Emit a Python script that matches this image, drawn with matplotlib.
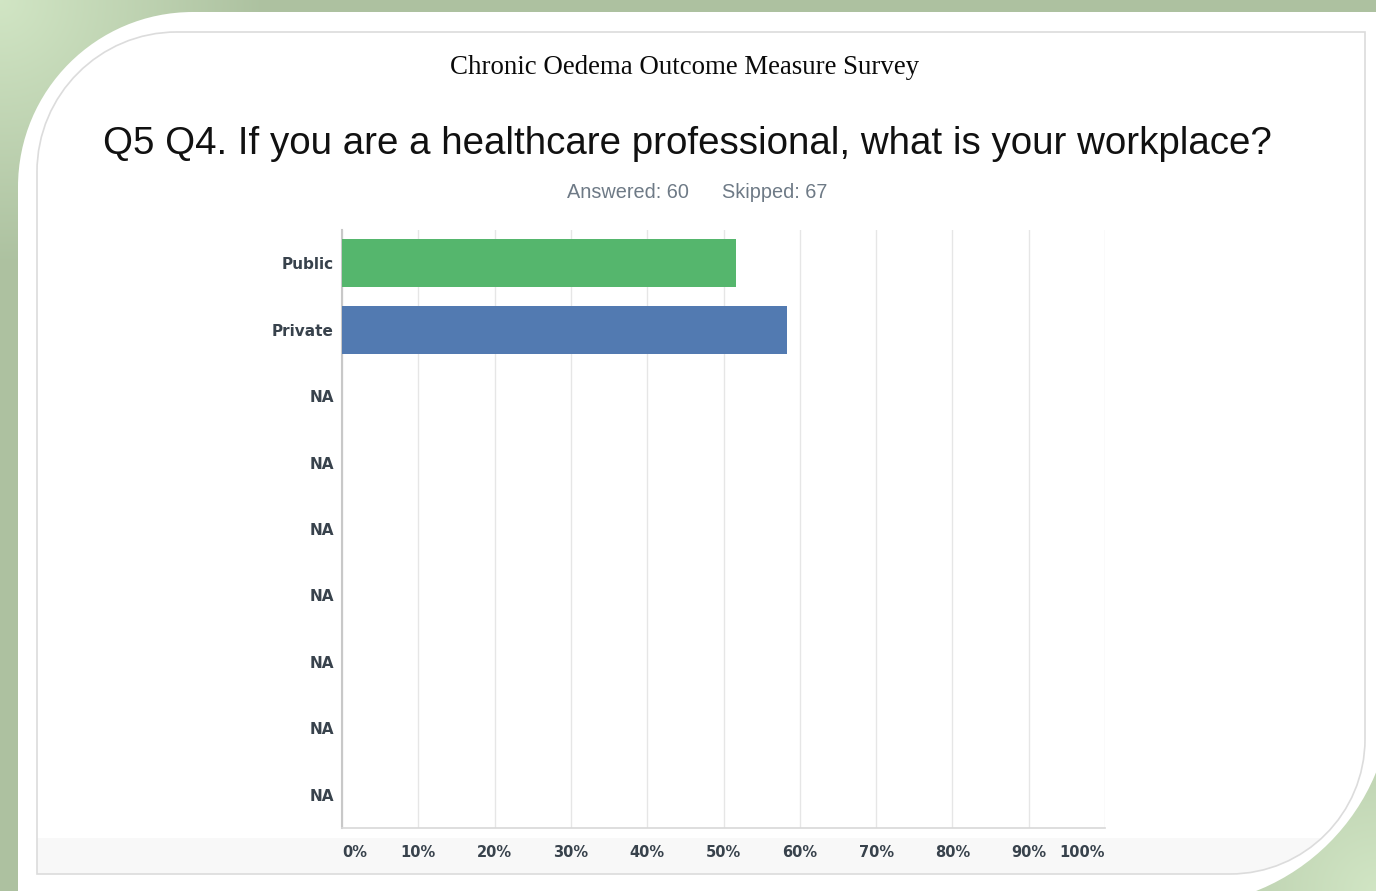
import numpy as np
import matplotlib

matplotlib.use("Agg")
import matplotlib.pyplot as plt
from matplotlib.path import Path
from matplotlib.patches import PathPatch, Rectangle

W, H = 1376, 891

TITLE = "Chronic Oedema Outcome Measure Survey"
QUESTION = "Q5 Q4. If you are a healthcare professional, what is your workplace?"
ANSWERED = "Answered: 60"
SKIPPED = "Skipped: 67"

CATEGORIES = ["Public", "Private", "NA", "NA", "NA", "NA", "NA", "NA", "NA"]
PERCENTS = [51.67, 58.33, 0, 0, 0, 0, 0, 0, 0]
BAR_COLORS = ["#55b66d", "#527ab1"] + ["#527ab1"] * 7
X_TICKS = [0, 10, 20, 30, 40, 50, 60, 70, 80, 90, 100]
X_TICK_LABELS = [f"{t}%" for t in X_TICKS]

LABEL_COLOR = "#38424c"


def rounded_path(x0, y0, x1, y1, r_tl, r_br):
    """Rectangle in pixel coords (y downwards) with rounded top-left and bottom-right."""
    k = 0.5523
    verts = [
        (x0, y1),
        (x0, y0 + r_tl),
        (x0, y0 + r_tl * (1 - k)), (x0 + r_tl * (1 - k), y0), (x0 + r_tl, y0),
        (x1, y0),
        (x1, y1 - r_br),
        (x1, y1 - r_br * (1 - k)), (x1 - r_br * (1 - k), y1), (x1 - r_br, y1),
        (x0, y1),
    ]
    codes = [Path.MOVETO, Path.LINETO, Path.CURVE4, Path.CURVE4, Path.CURVE4,
             Path.LINETO, Path.LINETO, Path.CURVE4, Path.CURVE4, Path.CURVE4,
             Path.CLOSEPOLY]
    return Path(verts, codes)


fig = plt.figure(figsize=(W / 100, H / 100), dpi=100)

# background frame
bg = fig.add_axes([0, 0, 1, 1])
bg.set_xlim(0, W)
bg.set_ylim(H, 0)
bg.axis("off")

yy, xx = np.mgrid[0:H, 0:W]
d1 = np.hypot(xx, yy)
d2 = np.hypot(W - xx, H - yy)
t = np.clip(np.minimum(d1, d2) / 260.0, 0, 1)
light = np.array([0.82, 0.90, 0.77])
dark = np.array([0.68, 0.76, 0.63])
grad = light[None, None, :] * (1 - t[..., None]) + dark[None, None, :] * t[..., None]
bg.imshow(grad, extent=(0, W, H, 0), aspect="auto", zorder=0)

outer = rounded_path(18, 12, 1392, 906, 175, 215)
bg.add_patch(PathPatch(outer, facecolor="white", edgecolor="none", zorder=1))

inner_path = rounded_path(37, 32, 1365, 874, 140, 135)
band = Rectangle((37, 838), 1330, 36, facecolor="#f8f8f8", edgecolor="none", zorder=2)
bg.add_patch(band)
band.set_clip_path(PathPatch(inner_path, transform=bg.transData))
bg.add_patch(PathPatch(inner_path, facecolor="none", edgecolor="#dcdcdc", lw=1.2, zorder=3))

bg.text(685, 67, TITLE, ha="center", va="center", fontsize=19.4,
        family="Liberation Serif", color="#0a0a0a")
bg.text(687, 144, QUESTION, ha="center", va="center", fontsize=27.7,
        family="Liberation Sans", color="#111111")
bg.text(567, 192, ANSWERED, ha="left", va="center", fontsize=14.3,
        family="Liberation Sans", color="#6e7a86")
bg.text(722, 192, SKIPPED, ha="left", va="center", fontsize=14.3,
        family="Liberation Sans", color="#6e7a86")

# chart
ax = fig.add_axes([342 / W, 63 / H, 763 / W, 598 / H])
ax.set_facecolor("none")
y_pos = np.arange(len(CATEGORIES))
ax.barh(y_pos, PERCENTS, height=0.72, color=BAR_COLORS, zorder=3)
ax.set_ylim(len(CATEGORIES) - 0.5, -0.5)
ax.set_xlim(0, 100)

ax.set_xticks(X_TICKS)
ax.set_xticklabels(X_TICK_LABELS)
ax.set_yticks(y_pos)
ax.set_yticklabels(CATEGORIES)
ax.tick_params(axis="both", length=0, labelcolor=LABEL_COLOR)
ax.tick_params(axis="x", pad=12, labelsize=10.5)
ax.tick_params(axis="y", pad=6, labelsize=11)
for lab in ax.get_xticklabels() + ax.get_yticklabels():
    lab.set_fontweight("bold")
    lab.set_family("DejaVu Sans")
xlabels = ax.get_xticklabels()
xlabels[0].set_ha("left")
xlabels[-1].set_ha("right")

ax.grid(axis="x", color="#e6e6e6", lw=1.0, zorder=0)
for side in ["top", "right"]:
    ax.spines[side].set_visible(False)
ax.spines["left"].set_color("#c8c8c8")
ax.spines["left"].set_linewidth(1.5)
ax.spines["bottom"].set_color("#d8d8d8")
ax.spines["bottom"].set_linewidth(1.2)

fig.savefig("out.png", dpi=100)
